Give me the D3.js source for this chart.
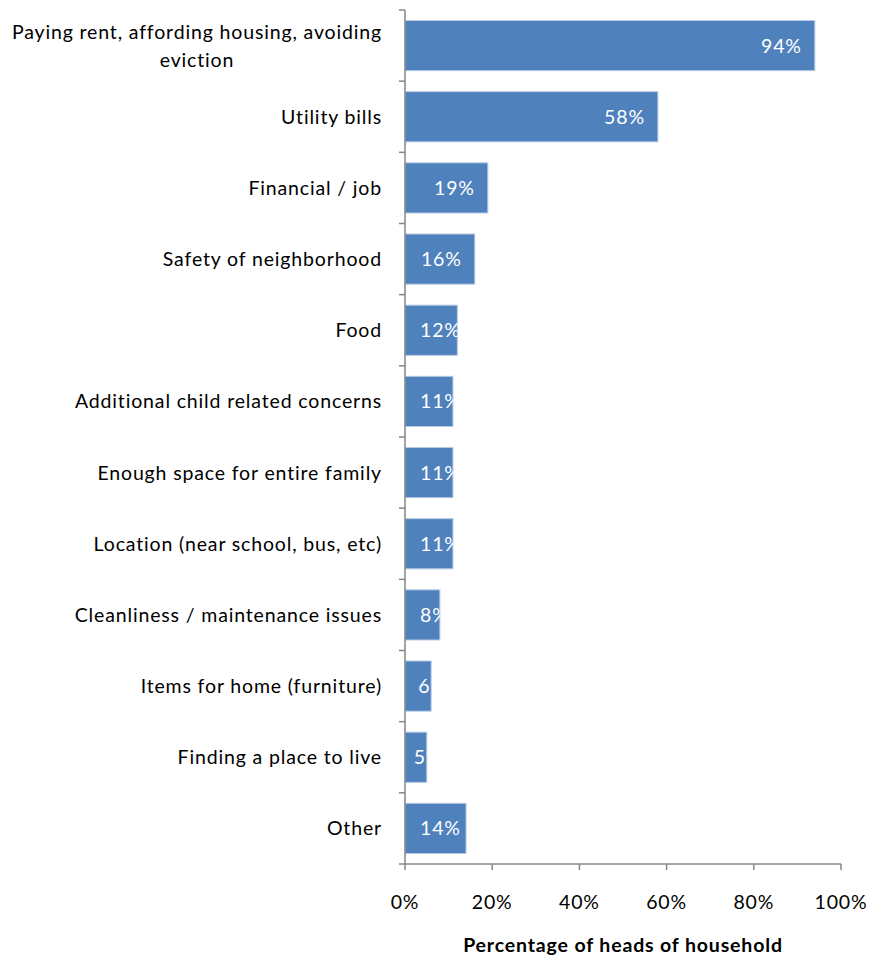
<!DOCTYPE html>
<html>
<head>
<meta charset="utf-8">
<script src="https://cdn.jsdelivr.net/npm/d3@7/dist/d3.min.js"></script>
<style>
  html, body { margin: 0; padding: 0; background: #ffffff; }
  svg { display: block; }
  text { font-family: Lato, "Open Sans", sans-serif; letter-spacing: 0.85px; }
</style>
</head>
<body>
<div id="chart"></div>
<script>
// Housing concerns reported by heads of household
const categories = [
  "Paying rent, affording housing, avoiding|eviction",
  "Utility bills",
  "Financial / job",
  "Safety of neighborhood",
  "Food",
  "Additional child related concerns",
  "Enough space for entire family",
  "Location (near school, bus, etc)",
  "Cleanliness / maintenance issues",
  "Items for home (furniture)",
  "Finding a place to live",
  "Other"
];
const values = [94, 58, 19, 16, 12, 11, 11, 11, 8, 6, 5, 14];
const valueLabels = ["94%", "58%", "19%", "16%", "12%", "11%", "11%", "11%", "8%", "6%", "5%", "14%"];
const xTicks = [0, 20, 40, 60, 80, 100];
const xTitle = "Percentage of heads of household";

const W = 871, H = 959;
const margin = { left: 405, right: 30, top: 10, bottom: 95 };
const fontSize = 19.5;

const svg = d3.select("#chart").append("svg")
  .attr("width", W).attr("height", H);

const x = d3.scaleLinear().domain([0, 100]).range([margin.left, W - margin.right]);
const y = d3.scaleBand().domain(d3.range(categories.length))
  .range([margin.top, H - margin.bottom])
  .paddingInner(0.295).paddingOuter(0.1475);

const axisColor = "#868686";
const barColor = "#4f81bd";

// bars
const defs = svg.append("defs");
const bars = svg.append("g");
values.forEach((v, i) => {
  defs.append("clipPath").attr("id", "clip" + i)
    .append("rect")
    .attr("x", x(0)).attr("y", y(i))
    .attr("width", x(v) - x(0)).attr("height", y.bandwidth());
  bars.append("rect")
    .attr("x", x(0)).attr("y", y(i))
    .attr("width", x(v) - x(0)).attr("height", y.bandwidth())
    .attr("fill", barColor)
    .attr("stroke", "#b9cbe4").attr("stroke-width", 1);
});

// value labels inside bar ends (white text, clipped to the bar)
values.forEach((v, i) => {
  const t = svg.append("text")
    .attr("clip-path", "url(#clip" + i + ")")
    .attr("fill", "#ffffff")
    .attr("font-size", fontSize)
    .attr("y", y(i) + y.bandwidth() / 2 + 7)
    .text(valueLabels[i]);
  const w = t.node().getComputedTextLength();
  const end = x(v);
  let start = end - 13 - w;
  const minStart = Math.min(x(0) + 15, end - 13);
  if (start < minStart) start = minStart;
  t.attr("x", start);
});

// category axis
const yAxisG = svg.append("g");
yAxisG.append("line")
  .attr("x1", x(0)).attr("x2", x(0))
  .attr("y1", margin.top).attr("y2", H - margin.bottom)
  .attr("stroke", axisColor).attr("stroke-width", 1.5);
const bounds = d3.range(categories.length + 1).map(i =>
  i < categories.length ? y(i) - y.step() * y.paddingOuter() : H - margin.bottom);
bounds.forEach(b => {
  yAxisG.append("line")
    .attr("x1", x(0) - 6).attr("x2", x(0))
    .attr("y1", b).attr("y2", b)
    .attr("stroke", axisColor).attr("stroke-width", 1.5);
});
categories.forEach((c, i) => {
  const lines = c.split("|");
  const cy = y(i) + y.bandwidth() / 2;
  const lh = 28;
  const t = yAxisG.append("text")
    .attr("font-size", fontSize).attr("fill", "#000")
    .attr("text-anchor", "middle");
  const tmp = [];
  lines.forEach((ln, k) => {
    tmp.push(t.append("tspan").attr("y", cy + 7 + (k - (lines.length - 1) / 2) * lh).text(ln));
  });
  // right-align the block, centre lines within it
  const widths = tmp.map(s => s.node().getComputedTextLength());
  const maxW = d3.max(widths);
  const right = x(0) - 23;
  tmp.forEach(s => s.attr("x", right - maxW / 2));
});

// value axis
const base = H - margin.bottom;
const xAxisG = svg.append("g");
xAxisG.append("line")
  .attr("x1", x(0)).attr("x2", x(100))
  .attr("y1", base).attr("y2", base)
  .attr("stroke", axisColor).attr("stroke-width", 1.5);
xTicks.forEach(tk => {
  xAxisG.append("line")
    .attr("x1", x(tk)).attr("x2", x(tk))
    .attr("y1", base).attr("y2", base + 6)
    .attr("stroke", axisColor).attr("stroke-width", 1.5);
  xAxisG.append("text")
    .attr("x", x(tk)).attr("y", base + 45)
    .attr("text-anchor", "middle")
    .attr("font-size", fontSize).attr("fill", "#000")
    .text(tk + "%");
});
xAxisG.append("text")
  .attr("x", (x(0) + x(100)) / 2).attr("y", base + 88)
  .attr("text-anchor", "middle")
  .attr("font-size", fontSize).attr("font-weight", "bold").attr("fill", "#000")
  .text(xTitle);
</script>
</body>
</html>
